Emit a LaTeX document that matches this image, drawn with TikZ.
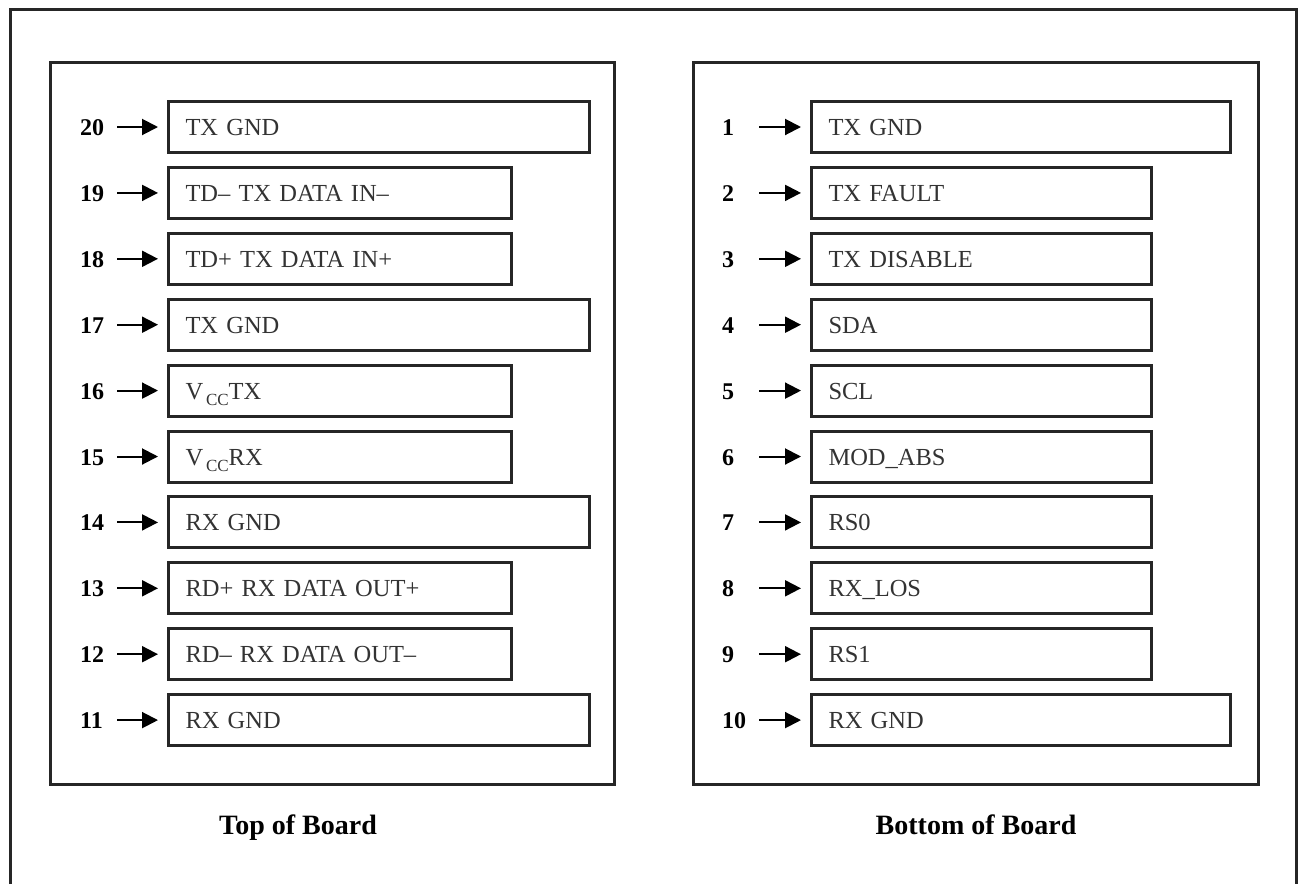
\documentclass[tikz,border=0pt]{standalone}
\usepackage{fontspec}
\setmainfont{Liberation Serif}
\usetikzlibrary{arrows.meta}
\newcommand\pinCC{\raisebox{-0.6ex}{\fontsize{17}{17}\selectfont\,CC}}
\begin{document}
\begin{tikzpicture}[x=1pt,y=-1pt,
  frame/.style={draw=black!85, line width=3pt},
  pinbox/.style={draw=black!85, line width=3pt, anchor=west, minimum height=51pt,
    inner xsep=17pt, inner ysep=0pt, align=left, text height=17pt, text depth=0pt,
    font=\fontsize{24.5}{24.5}\selectfont, text=black!80},
  longL/.style={pinbox, text width=387pt},
  shortL/.style={pinbox, text width=309pt},
  longR/.style={pinbox, text width=385pt},
  shortR/.style={pinbox, text width=306pt},
  pinnum/.style={anchor=west, inner sep=0pt, text width=30pt, align=left,
    font=\bfseries\fontsize{24}{24}\selectfont, text height=17pt, text depth=0pt},
  pinarrow/.style={-{Triangle[length=16pt,width=16pt]}, line width=2pt, draw=black,
    shorten <=7pt, shorten >=9pt},
  caption/.style={anchor=base, font=\bfseries\fontsize{28}{28}\selectfont}]
\useasboundingbox (0,0) rectangle (1298,884);
\fill[white] (0,0) rectangle (1298,884);
% outer frame (open at the bottom edge of the picture)
\draw[frame] (10,884) -- (10,9) -- (1296,9) -- (1296,884);
% panels
\draw[frame] (50,62) rectangle (614,784);
\draw[frame] (693,62) rectangle (1258,784);
% left side pins
\foreach \n/\t/\s [count=\k from 0] in {
  20/TX GND/longL, 19/TD– TX DATA IN–/shortL, 18/TD+ TX DATA IN+/shortL,
  17/TX GND/longL, 16/V\pinCC TX/shortL, 15/V\pinCC RX/shortL,
  14/RX GND/longL, 13/RD+ RX DATA OUT+/shortL, 12/RD– RX DATA OUT–/shortL,
  11/RX GND/longL}{
  \pgfmathsetmacro\y{127+\k*65.9}
  \node[\s] (pin\n) at (167,\y) {\t};
  \node[pinnum] (num\n) at (80,\y) {\n};
  \draw[pinarrow] (num\n.east) -- (pin\n.west);
}
% right side pins
\foreach \n/\t/\s [count=\k from 0] in {
  1/TX GND/longR, 2/TX FAULT/shortR, 3/TX DISABLE/shortR, 4/SDA/shortR,
  5/SCL/shortR, 6/MOD\_ABS/shortR, 7/RS0/shortR, 8/RX\_LOS/shortR,
  9/RS1/shortR, 10/RX GND/longR}{
  \pgfmathsetmacro\y{127+\k*65.9}
  \node[\s] (pin\n) at (810,\y) {\t};
  \node[pinnum] (num\n) at (722,\y) {\n};
  \draw[pinarrow] (num\n.east) -- (pin\n.west);
}
\node[caption] (toplabel) at (298,834) {Top of Board};
\node[caption] (bottomlabel) at (976,834) {Bottom of Board};
\end{tikzpicture}
\end{document}
